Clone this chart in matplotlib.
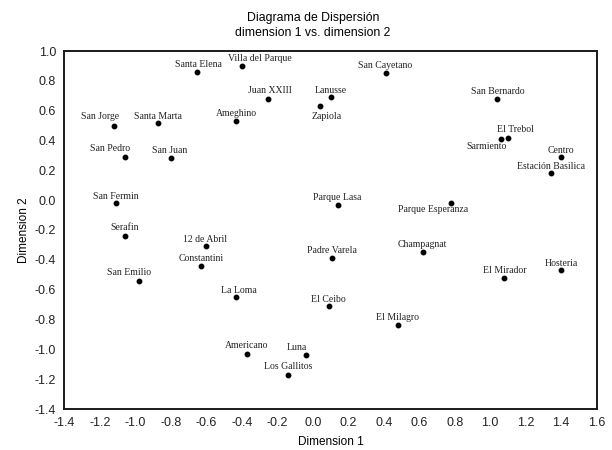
import matplotlib
matplotlib.use('Agg')
import matplotlib.pyplot as plt

# barrios y coordenadas (dimension 1, dimension 2)
names = ['Santa Elena', 'Villa del Parque', 'Juan XXIII', 'Lanusse', 'Zapiola',
         'San Jorge', 'Santa Marta', 'Ameghino', 'San Pedro', 'San Juan',
         'San Cayetano', 'San Bernardo', 'El Trebol', 'Sarmiento', 'Centro',
         'Estación Basilica', 'San Fermin', 'Serafin', '12 de Abril', 'Constantini',
         'San Emilio', 'La Loma', 'Parque Lasa', 'Parque Esperanza', 'Padre Varela',
         'Champagnat', 'El Mirador', 'Hosteria', 'El Ceibo', 'El Milagro',
         'Americano', 'Luna', 'Los Gallitos']
dim1 = [-0.65, -0.40, -0.25, 0.10, 0.04,
        -1.12, -0.87, -0.43, -1.06, -0.80,
        0.41, 1.04, 1.10, 1.06, 1.40,
        1.34, -1.11, -1.06, -0.60, -0.63,
        -0.98, -0.43, 0.14, 0.78, 0.11,
        0.62, 1.08, 1.40, 0.09, 0.48,
        -0.37, -0.04, -0.14]
dim2 = [0.86, 0.90, 0.68, 0.69, 0.63,
        0.50, 0.52, 0.53, 0.29, 0.28,
        0.85, 0.68, 0.42, 0.41, 0.29,
        0.18, -0.02, -0.24, -0.31, -0.44,
        -0.54, -0.65, -0.03, -0.02, -0.39,
        -0.35, -0.52, -0.47, -0.71, -0.84,
        -1.03, -1.04, -1.17]

# desplazamiento de cada etiqueta (pixeles)
offsets = [(1, 7), (18, 7), (2, 8), (0, 7), (7, -10),
           (-14, 9), (0, 6), (0, 8), (-15, 8), (-1, 8),
           (0, 8), (0, 7), (8, 8), (-14, -7), (0, 6),
           (0, 7), (0, 7), (0, 8), (-1, 7), (0, 7),
           (-10, 8), (2, 7), (0, 7), (-18, -6), (0, 8),
           (0, 8), (0, 7), (0, 7), (0, 7), (0, 8),
           (0, 8), (-9, 8), (0, 8)]

fig = plt.figure(figsize=(6.12, 4.5), dpi=100)
ax = fig.add_axes([64.3 / 612, 1 - 409 / 450, (596.7 - 64.3) / 612, (409 - 51) / 450])

ax.plot(dim1, dim2, 'o', color='black', markersize=3.2, linestyle='none')
for n, x, y, (dx, dy) in zip(names, dim1, dim2, offsets):
    ax.annotate(n, (x, y), xytext=(dx, dy), textcoords='offset pixels',
                ha='center', va='center', fontsize=7,
                family='Liberation Serif', color='#222222')

ax.set_xlim(-1.4, 1.6)
ax.set_ylim(-1.4, 1.0)
ax.set_xticks([-1.4 + 0.2 * i for i in range(16)])
ax.set_yticks([-1.4 + 0.2 * i for i in range(13)])
ax.xaxis.set_major_formatter(matplotlib.ticker.FormatStrFormatter('%.1f'))
ax.yaxis.set_major_formatter(matplotlib.ticker.FormatStrFormatter('%.1f'))
ax.tick_params(length=0, labelsize=9, colors='#222222', pad=6)
for lbl in ax.get_xticklabels() + ax.get_yticklabels():
    lbl.set_family('Liberation Sans')
for s in ax.spines.values():
    s.set_linewidth(1.4)
    s.set_color('#1a1a1a')

ax.set_xlabel('Dimension 1', fontsize=8.5, family='Liberation Sans', labelpad=5)
ax.set_ylabel('Dimension 2', fontsize=8.5, family='Liberation Sans', labelpad=3)

fig.text(313 / 612, 1 - 18 / 450, 'Diagrama de Dispersión', ha='center', va='center',
         fontsize=8.8, family='Liberation Sans')
fig.text(313 / 612, 1 - 33 / 450, 'dimension 1 vs. dimension 2', ha='center', va='center',
         fontsize=8.8, family='Liberation Sans')

plt.savefig('out.png', dpi=100)
